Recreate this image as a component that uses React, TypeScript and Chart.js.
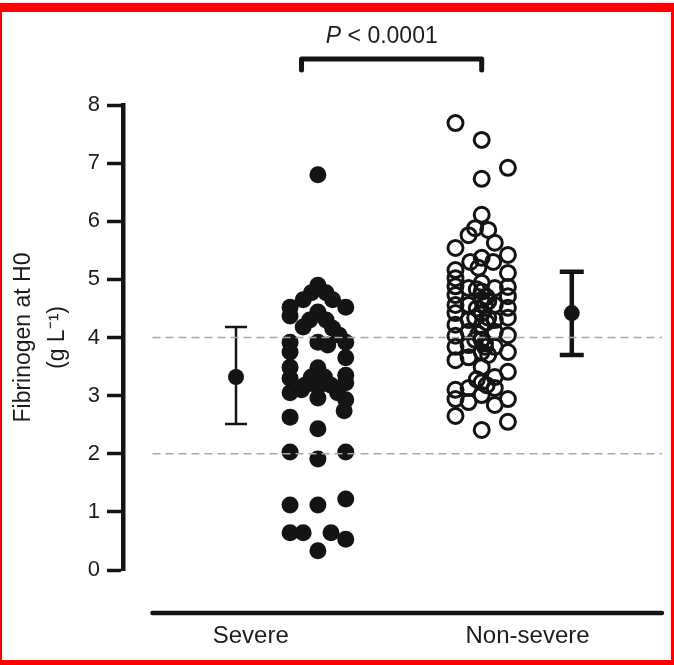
import React, { useEffect, useRef } from "react";
import { Chart, registerables } from "chart.js";

Chart.register(...registerables);

// ---------- data ----------
const CATEGORIES = ["Severe", "Non-severe"];
const CATEGORY_LABEL_POS = [0.59, 2.28];
const GROUP_CENTER = [1, 2];
const Y_TICKS = [0, 1, 2, 3, 4, 5, 6, 7, 8];
const REF_LINES = [2, 4];

const SEVERE_VALUES = [
  6.8, 4.9, 4.77, 4.77, 4.65, 4.65, 4.52, 4.52, 4.37, 4.44, 4.3, 4.3, 4.18, 4.16, 4.04,
  3.92, 3.75, 3.92, 3.87, 3.92, 3.65, 3.49, 3.3, 3.48, 3.32, 3.32, 3.18, 3.18, 3.35, 3.22,
  3.05, 3.1, 3.15, 2.96, 3.05, 2.93, 2.74, 2.63, 2.43, 2.03, 1.91, 2.03, 1.12, 1.12, 1.22,
  0.64, 0.64, 0.64, 0.53, 0.33,
];
const SEVERE_OFFSETS = [
  0, 0, -0.04, 0.05, -0.09, 0.09, -0.17, 0.17, -0.17, 0, -0.05, 0.05, -0.09, 0.09, 0.13,
  -0.17, -0.17, 0, 0.06, 0.17, 0.17, -0.17, -0.17, 0, -0.04, 0.04, -0.08, 0.08, 0.17, 0.17,
  -0.17, -0.1, 0, 0, 0.12, 0.17, 0.16, -0.17, 0, -0.17, 0, 0.17, -0.17, 0, 0.17,
  -0.17, -0.09, 0.08, 0.17, 0,
];

const NONSEVERE_VALUES = [
  7.69, 7.4, 6.92, 6.73, 6.11, 5.88, 5.85, 5.76, 5.63, 5.54, 5.42, 5.37, 5.3, 5.3, 5.16,
  5.11, 5.02, 4.94, 4.85, 4.85, 4.71, 4.73, 4.65, 4.56, 4.56, 4.56, 4.51, 4.42, 4.42, 4.34,
  4.3, 4.3, 4.2, 4.22, 4.1, 4.1, 4.04, 4.03, 3.96, 3.87, 3.84, 3.84, 3.75, 3.75, 3.66,
  3.61, 3.49, 3.41, 3.32, 3.23, 3.13, 3.13, 3.1, 3.01, 2.94, 2.94, 2.84, 2.89, 2.65, 2.55,
  2.41, 4.87, 4.88, 4.79, 4.56, 4.34, 4.34, 3.84, 3.96, 3.7,
  4.7, 4.5, 4.26, 4.06, 3.9, 4.62, 4.83, 5.2, 3.28, 3.18,
];
const NONSEVERE_OFFSETS = [
  -0.16, 0, 0.16, 0, 0, -0.04, 0.04, -0.08, 0.08, -0.16, 0.16, 0, -0.07, 0.07, -0.16,
  0.16, -0.16, 0, -0.08, 0.08, 0.16, -0.16, 0, -0.08, 0.08, -0.16, 0.16, 0, -0.16, 0.16,
  -0.08, 0.08, 0, -0.16, -0.08, 0.08, 0.16, -0.16, 0, -0.08, -0.16, 0.08, 0, 0.16, -0.08,
  -0.16, 0, 0.16, 0.08, 0, -0.08, 0.08, -0.16, 0, -0.16, 0.16, 0.08, -0.08, -0.16, 0.16,
  0, 0.16, -0.16, 0, 0.02, -0.04, 0.04, 0.02, -0.04, 0.04,
  0.03, -0.03, 0.03, -0.02, 0.02, 0.04, -0.03, -0.02, -0.03, 0.03,
];

// summary (mean and interval) per group
const SUMMARY_X = [0.5, 2.55];
const SUMMARY_MEAN = [3.32, 4.42];
const SUMMARY_LOW = [2.51, 3.7];
const SUMMARY_HIGH = [4.18, 5.13];

const P_ITALIC = "P";
const P_REST = " < 0.0001";
const BRACKET_X = [0.9, 2.0];
const P_TEXT_X = 1.39;

const X_MIN = -0.19;
const X_MAX = 3.11;
const X_AXIS_SPAN = [-0.01, 3.1];

const FONT = "'Liberation Sans', Arial, Helvetica, sans-serif";
const INK = "#141414";
const TEXT = "#1c1c1c";

const overlayPlugin = {
  id: "overlay",
  afterDatasetsDraw(chart: any) {
    const { ctx, scales } = chart;
    const x = scales.x;
    const y = scales.y;
    ctx.save();

    // error bars
    const barWidths = [2.5, 4.5];
    const capHalf = [11, 12];
    SUMMARY_X.forEach((sx: number, i: number) => {
      const px = x.getPixelForValue(sx);
      const yl = y.getPixelForValue(SUMMARY_LOW[i]);
      const yh = y.getPixelForValue(SUMMARY_HIGH[i]);
      ctx.strokeStyle = INK;
      ctx.lineWidth = barWidths[i];
      ctx.lineCap = "butt";
      ctx.beginPath();
      ctx.moveTo(px, yl);
      ctx.lineTo(px, yh);
      ctx.moveTo(px - capHalf[i], yl);
      ctx.lineTo(px + capHalf[i], yl);
      ctx.moveTo(px - capHalf[i], yh);
      ctx.lineTo(px + capHalf[i], yh);
      ctx.stroke();
    });

    // dashed reference lines
    ctx.strokeStyle = "#a8a8a8";
    ctx.lineWidth = 1.5;
    ctx.setLineDash([8, 5]);
    REF_LINES.forEach((v: number) => {
      const py = y.getPixelForValue(v);
      ctx.beginPath();
      ctx.moveTo(x.getPixelForValue(X_AXIS_SPAN[0]), py);
      ctx.lineTo(x.getPixelForValue(X_AXIS_SPAN[1]), py);
      ctx.stroke();
    });
    ctx.setLineDash([]);

    // detached x axis line
    const axisY = y.getPixelForValue(0) + 43;
    ctx.strokeStyle = INK;
    ctx.lineWidth = 4.5;
    ctx.lineCap = "round";
    ctx.beginPath();
    ctx.moveTo(x.getPixelForValue(X_AXIS_SPAN[0]), axisY);
    ctx.lineTo(x.getPixelForValue(X_AXIS_SPAN[1]), axisY);
    ctx.stroke();

    // significance bracket
    const top8 = y.getPixelForValue(8);
    const by = top8 - 46;
    const bx1 = x.getPixelForValue(BRACKET_X[0]);
    const bx2 = x.getPixelForValue(BRACKET_X[1]);
    ctx.lineWidth = 5;
    ctx.lineJoin = "round";
    ctx.beginPath();
    ctx.moveTo(bx1, by + 11);
    ctx.lineTo(bx1, by);
    ctx.lineTo(bx2, by);
    ctx.lineTo(bx2, by + 11);
    ctx.stroke();

    // P value text
    ctx.fillStyle = TEXT;
    ctx.textBaseline = "middle";
    ctx.textAlign = "left";
    ctx.font = `italic 23px ${FONT}`;
    const w1 = ctx.measureText(P_ITALIC).width;
    ctx.font = `23px ${FONT}`;
    const w2 = ctx.measureText(P_REST).width;
    const cx = x.getPixelForValue(P_TEXT_X);
    const tx = cx - (w1 + w2) / 2;
    const ty = top8 - 68;
    ctx.font = `italic 23px ${FONT}`;
    ctx.fillText(P_ITALIC, tx, ty);
    ctx.font = `23px ${FONT}`;
    ctx.fillText(P_REST, tx + w1, ty);

    ctx.restore();
  },
};

export default function App() {
  const canvasRef = useRef<HTMLCanvasElement | null>(null);

  useEffect(() => {
    const canvas = canvasRef.current;
    if (!canvas) return;

    const severe = SEVERE_VALUES.map((v, i) => ({ x: GROUP_CENTER[0] + SEVERE_OFFSETS[i], y: v }));
    const nonSevere = NONSEVERE_VALUES.map((v, i) => ({ x: GROUP_CENTER[1] + NONSEVERE_OFFSETS[i], y: v }));
    const summary = SUMMARY_X.map((sx, i) => ({ x: sx, y: SUMMARY_MEAN[i] }));

    const chart = new Chart(canvas, {
      type: "scatter",
      data: {
        datasets: [
          {
            label: CATEGORIES[0],
            data: severe,
            pointRadius: 8.5,
            pointBackgroundColor: INK,
            pointBorderWidth: 0,
            clip: false,
          } as any,
          {
            label: CATEGORIES[1],
            data: nonSevere,
            pointRadius: 7.5,
            pointBackgroundColor: "rgba(0,0,0,0)",
            pointBorderColor: INK,
            pointBorderWidth: 3,
            clip: false,
          } as any,
          {
            label: "mean",
            data: summary,
            pointRadius: 8,
            pointBackgroundColor: INK,
            pointBorderWidth: 0,
            clip: false,
          } as any,
        ],
      },
      options: {
        animation: false,
        responsive: false,
        devicePixelRatio: 1,
        layout: { padding: { top: 105, right: 3, left: 0, bottom: 0 } },
        plugins: {
          legend: { display: false },
          tooltip: { enabled: false },
        },
        scales: {
          x: {
            type: "linear",
            position: "bottom",
            min: X_MIN,
            max: X_MAX,
            grid: { display: false, drawTicks: false },
            border: { display: false },
            afterBuildTicks: (s: any) => {
              s.ticks = CATEGORY_LABEL_POS.map((v) => ({ value: v }));
            },
            afterFit: (s: any) => {
              s.height = 95;
            },
            ticks: {
              autoSkip: false,
              maxRotation: 0,
              padding: 52,
              color: TEXT,
              font: { family: FONT, size: 24 },
              callback: (_v: any, i: number) => CATEGORIES[i],
            },
          },
          y: {
            type: "linear",
            min: 0,
            max: 8,
            afterBuildTicks: (s: any) => {
              s.ticks = Y_TICKS.map((v) => ({ value: v }));
            },
            afterFit: (s: any) => {
              s.width = 123;
            },
            grid: {
              drawOnChartArea: false,
              drawTicks: true,
              tickLength: 16,
              tickWidth: 3.5,
              tickColor: INK,
              color: INK,
            },
            border: { display: true, width: 4.5, color: INK },
            ticks: {
              padding: 7,
              color: TEXT,
              font: { family: FONT, size: 22 },
            },
            title: {
              display: true,
              text: ["Fibrinogen at H0", "(g L\u207B\u00B9)"],
              color: TEXT,
              font: { family: FONT, size: 23, lineHeight: 1.5 },
              padding: { top: 6, bottom: 0 },
            },
          },
        },
      } as any,
      plugins: [overlayPlugin],
    });

    return () => chart.destroy();
  }, []);

  return (
    <div
      style={{
        position: "absolute",
        left: 0,
        top: 0,
        width: 674,
        height: 665,
        background: "#fff",
        overflow: "hidden",
      }}
    >
      <canvas ref={canvasRef} width={674} height={665} style={{ display: "block", width: 674, height: 665 }} />
      <div style={{ position: "absolute", left: 0, top: 3, width: 674, height: 9, background: "#ff0000" }} />
      <div style={{ position: "absolute", left: 0, top: 3, width: 2, height: 662, background: "#ff0000" }} />
      <div style={{ position: "absolute", left: 671, top: 3, width: 3, height: 662, background: "#ff0000" }} />
      <div style={{ position: "absolute", left: 0, top: 660, width: 674, height: 5, background: "#ff0000" }} />
    </div>
  );
}
